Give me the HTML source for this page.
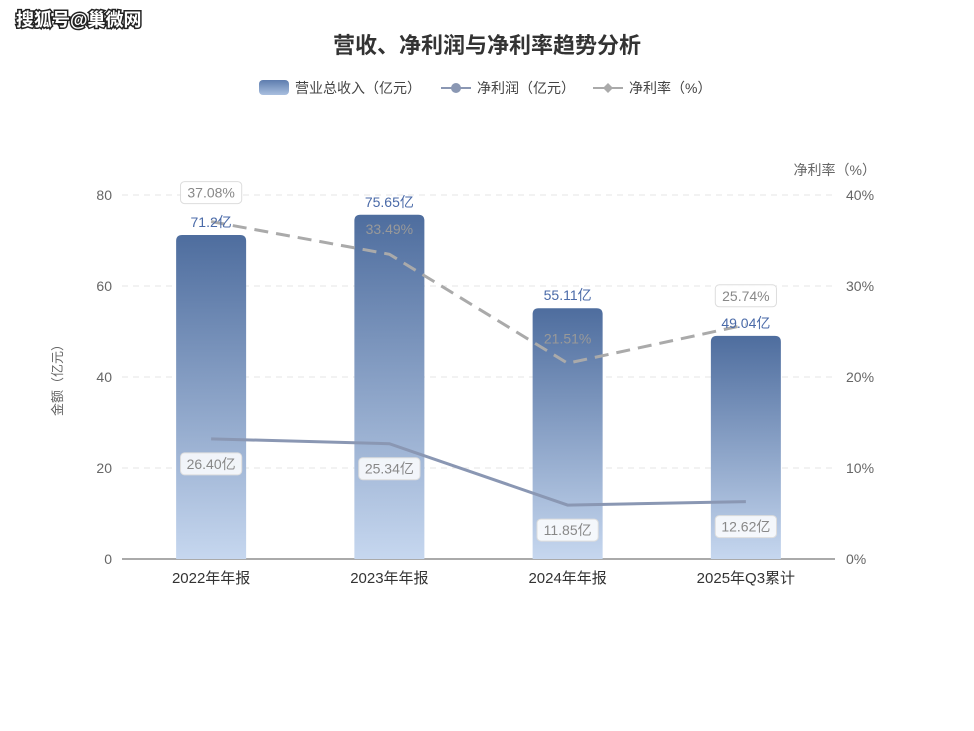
<!DOCTYPE html>
<html><head><meta charset="utf-8"><style>
body{margin:0;background:#fff;width:974px;height:731px;overflow:hidden;font-family:"Liberation Sans","Noto Sans CJK SC",sans-serif}
svg{position:absolute;left:0;top:0}
</style></head><body>
<svg id="c" width="974" height="731">
<defs><linearGradient id="g" x1="0" y1="0" x2="0" y2="1"><stop offset="0" stop-color="#4e6d9e"/><stop offset="1" stop-color="#c6d7ef"/></linearGradient>
<linearGradient id="lg" x1="0" y1="0" x2="0" y2="1"><stop offset="0" stop-color="#5d7cae"/><stop offset="1" stop-color="#a9bfdf"/></linearGradient></defs>
<text x="16" y="26" font-size="18" font-weight="bold" fill="#fff" stroke="#222" stroke-width="3" paint-order="stroke">搜狐号@巢微网</text>
<text x="487" y="53" text-anchor="middle" font-size="22" font-weight="bold" fill="#333">营收、净利润与净利率趋势分析</text>
<g>
<rect x="259" y="80" width="30" height="15" rx="4" fill="url(#lg)"/>
<text x="295" y="93" font-size="14" fill="#444">营业总收入（亿元）</text>
<line x1="441" y1="88" x2="471" y2="88" stroke="#8a97b3" stroke-width="2"/><circle cx="456" cy="88" r="5" fill="#8a97b3"/>
<text x="477" y="93" font-size="14" fill="#444">净利润（亿元）</text>
<line x1="593" y1="88" x2="623" y2="88" stroke="#aaa" stroke-width="2"/><path d="M608 83l5 5-5 5-5-5z" fill="#aaa"/>
<text x="629" y="93" font-size="14" fill="#444">净利率（%）</text>
</g>
<text x="876" y="175" text-anchor="end" font-size="14" fill="#666">净利率（%）</text>
<text transform="translate(62,377) rotate(-90)" text-anchor="middle" font-size="13" fill="#666">金额（亿元）</text>
<g id="plot"></g>
</svg>
<script>
const categories=["2022年年报","2023年年报","2024年年报","2025年Q3累计"];
const revenue=[71.2,75.65,55.11,49.04];
const revenueLabels=["71.2亿","75.65亿","55.11亿","49.04亿"];
const netProfit=[26.40,25.34,11.85,12.62];
const netMargin=[37.08,33.49,21.51,25.74];
const leftTicks=[0,20,40,60,80];
const rightTicks=[0,10,20,30,40];
const NS="http://www.w3.org/2000/svg",P=document.getElementById('plot');
const x0=122,x1=835,yb=559,yt=195;
const yL=v=>yb-v/80*(yb-yt), yR=v=>yb-v/40*(yb-yt);
const xC=i=>x0+(x1-x0)/categories.length*(i+0.5);
function mk(t,a,p){const e=document.createElementNS(NS,t);for(const k in a)e.setAttribute(k,a[k]);(p||P).appendChild(e);return e;}
leftTicks.forEach((v,i)=>{
 if(v>0){const g=mk('line',{x1:x0,x2:x1,y1:yL(v),y2:yL(v),stroke:'#e6e6e6','stroke-dasharray':'6 5'});}
 const t=mk('text',{x:112,y:yL(v)+5,'text-anchor':'end','font-size':14,fill:'#666'});t.textContent=v;
 
});
rightTicks.forEach(v=>{const t=mk('text',{x:846,y:yR(v)+5,'font-size':14,fill:'#666'});t.textContent=v+'%';
 });
const ax=mk('line',{x1:x0,x2:x1,y1:yb,y2:yb,stroke:'#555'});
categories.forEach((c,i)=>{const t=mk('text',{x:xC(i),y:583,'text-anchor':'middle','font-size':15,fill:'#333'});t.textContent=c;
 });
revenue.forEach((v,i)=>{const x=xC(i)-35,y=yL(v),h=yb-y,r=6;
 const b=mk('path',{d:`M${x} ${yb}V${y+r}Q${x} ${y} ${x+r} ${y}H${x+70-r}Q${x+70} ${y} ${x+70} ${y+r}V${yb}Z`,fill:'url(#g)'});
 });
function line(vals,f,attrs,name){const d=vals.map((v,i)=>(i?'L':'M')+xC(i)+' '+f(v)).join('');
 const l=mk('path',Object.assign({d,fill:'none'},attrs));}
line(netProfit,yL,{stroke:'#8a97b3','stroke-width':3},'net-profit-line');
line(netMargin,yR,{stroke:'#aaa','stroke-width':3,'stroke-dasharray':'14 8'},'net-margin-line');
function box(x,y,txt,col,name,bordered){const w=txt.length*8.2+12;
 if(bordered){const r=mk('rect',{x:x-w/2,y:y-16,width:w,height:22,rx:4,fill:'rgba(255,255,255,0.85)',stroke:'#ddd'});}
 const t=mk('text',{x,y:y,'text-anchor':'middle','font-size':14,fill:col});t.textContent=txt;
 }
revenue.forEach((v,i)=>box(xC(i),yL(v)-8,revenueLabels[i],'#4a6aa8','revenue-label',false));
netMargin.forEach((v,i)=>{const inside=(i==1||i==2);
 box(xC(i),inside?yR(v)-20:yR(v)-24,v.toFixed(2)+'%',inside?'#999':'#888','net-margin-label',!inside);});
netProfit.forEach((v,i)=>box(xC(i),yL(v)+30,v.toFixed(2)+'亿','#888','net-profit-label',true));
</script>
</body></html>
